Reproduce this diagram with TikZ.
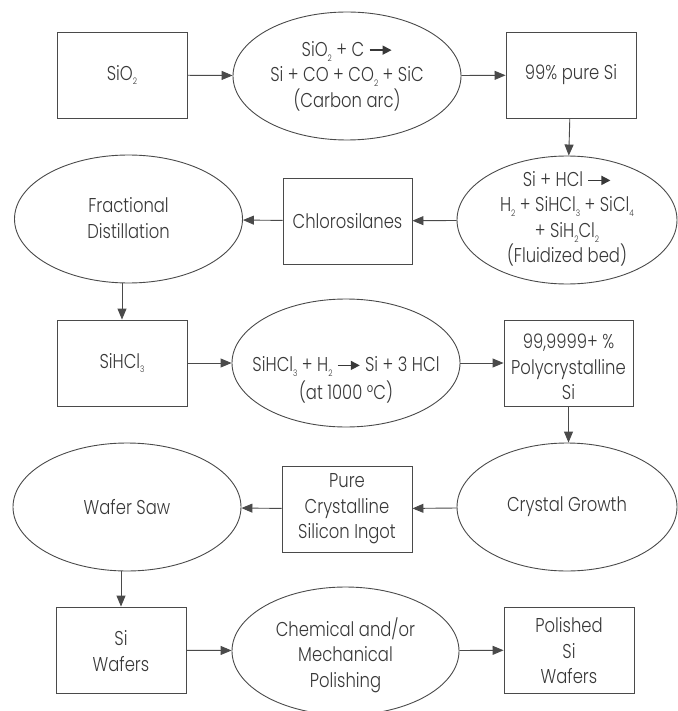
\documentclass[tikz,border=0pt]{standalone}
\usepackage{fontspec}
\IfFontExistsTF{Poppins Light}
  {\setmainfont{Poppins Light}[FakeStretch=0.82]}
  {\setmainfont{Poppins}[FakeStretch=0.82]}
\usetikzlibrary{arrows.meta,shapes.geometric}
\definecolor{ink}{HTML}{383838}
\definecolor{edge}{HTML}{4A4A4A}
% reaction arrow used inside the equations
\newcommand{\yields}{\tikz[baseline=-0.55ex]\draw[draw=ink,line width=1.5pt,-{Triangle[length=9pt,width=9pt]}] (0,0)--(22pt,0);}
% small, lowered chemical index
\newcommand{\ix}[1]{\raisebox{-0.45ex}{\fontsize{9}{9}\selectfont #1}}
\begin{document}
\begin{tikzpicture}[x=1pt,y=-1pt,
  every node/.style={text=ink, inner sep=0pt},
  txt/.style={align=center, font=\fontsize{20}{25.5}\selectfont},
  stepbox/.style={draw=edge, line width=0.9pt, minimum width=130pt, minimum height=86pt},
  oval/.style={draw=edge, line width=0.9pt, ellipse, minimum width=228pt, minimum height=128pt},
  flow/.style={draw=edge, line width=0.9pt, -{Triangle[length=11pt,width=9pt]}}]
\useasboundingbox (0,0) rectangle (677,711);

% row 1
\node[stepbox] (sio2) at (122,75) {};
\node[txt] (sio2t) at (sio2) {SiO\ix{2}};
\node[oval] (arc) at (347,76) {};
\node[txt] (arct) at (347,76) {SiO\ix{2} + C \yields\\Si + CO + CO\ix{2} + SiC\\(Carbon arc)};
\node[stepbox] (mg) at (571,75) {};
\node[txt] (mgt) at (mg) {99\% pure Si};

% row 2
\node[oval, minimum width=220pt] (fb) at (567,220) {};
\node[txt] (fbt) at (567,219) {Si + HCl \yields\\H\ix{2} + SiHCl\ix{3} + SiCl\ix{4}\\+ SiH\ix{2}Cl\ix{2}\\(Fluidized bed)};
\node[stepbox, minimum width=129pt] (cs) at (347.5,221) {};
\node[txt] (cst) at (cs) {Chlorosilanes};
\node[oval] (fd) at (128.5,219) {};
\node[txt] (fdt) at (128.5,218) {Fractional\\Distillation};

% row 3
\node[stepbox] (tcs) at (122,363) {};
\node[txt] (tcst) at (tcs) {SiHCl\ix{3}};
\node[oval] (cvd) at (346,363) {};
\node[txt] (cvdt) at (346,380) {SiHCl\ix{3} + H\ix{2} \yields{} Si + 3 HCl\\[3pt](at 1000 \textdegree C)};
\node[stepbox, minimum width=129pt] (poly) at (568.5,363) {};
\node[txt] (polyt) at (568.5,367) {99,9999+ \%\\Polycrystalline\\Si};

% row 4
\node[oval, minimum width=220pt] (cg) at (567,507) {};
\node[txt] (cgt) at (cg) {Crystal Growth};
\node[stepbox] (ingot) at (347,509) {};
\node[txt] (ingott) at (ingot) {Pure\\Crystalline\\Silicon Ingot};
\node[oval] (saw) at (127,507) {};
\node[txt] (sawt) at (saw) {Wafer Saw};

% row 5
\node[stepbox] (wf) at (121,650) {};
\node[txt] (wft) at (121,651) {Si\\Wafers};
\node[oval, minimum width=227pt] (cmp) at (345.5,651) {};
\node[txt] (cmpt) at (345.5,655) {Chemical and/or\\Mechanical\\Polishing};
\node[stepbox] (pw) at (569,650) {};
\node[txt] (pwt) at (569,651) {Polished\\Si\\Wafers};

% process flow
\draw[flow] (sio2) -- (arc);
\draw[flow] (arc) -- (mg);
\draw[flow] (mg) -- (fb);
\draw[flow] (fb) -- (cs);
\draw[flow] (cs) -- (fd);
\draw[flow] (fd.south -| tcs) -- (tcs);
\draw[flow] (tcs) -- (cvd);
\draw[flow] (cvd) -- (poly);
\draw[flow] (poly) -- (poly |- cg.north);
\draw[flow] (cg) -- (ingot);
\draw[flow] (ingot) -- (saw);
\draw[flow] (saw.south -| wf) -- (wf);
\draw[flow] (wf) -- (cmp);
\draw[flow] (cmp) -- (pw);
\end{tikzpicture}
\end{document}
